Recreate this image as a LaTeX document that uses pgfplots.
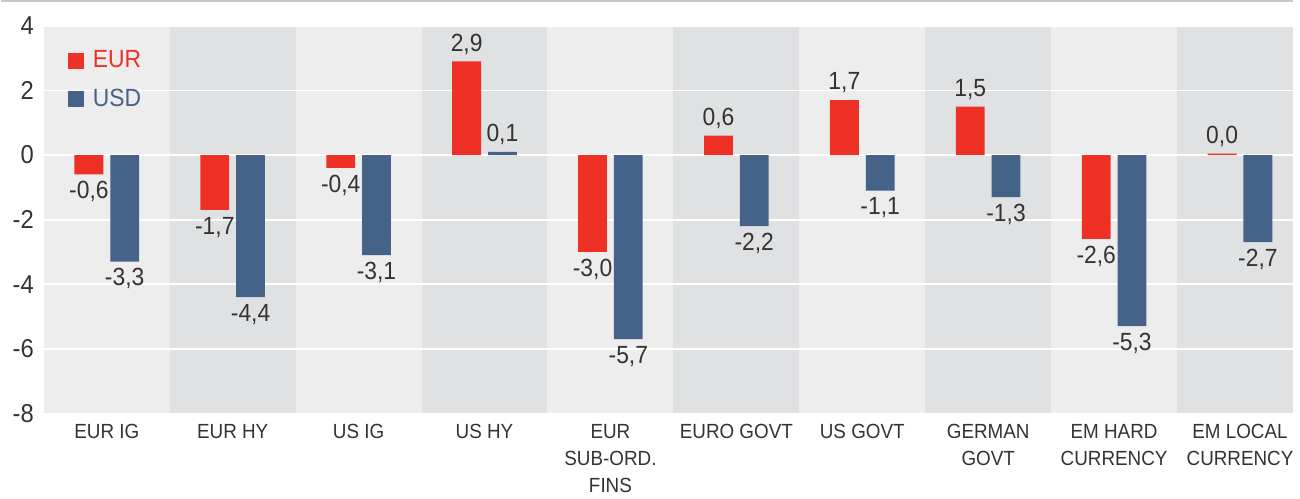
\documentclass[border=0pt]{standalone}
\usepackage{fontspec}
\setmainfont{Liberation Sans}[FakeStretch=0.92]
\usepackage{pgfplots}
\pgfplotsset{compat=1.18}
\definecolor{eurred}{HTML}{EE3124}
\definecolor{usdblue}{HTML}{456288}
\definecolor{bandlight}{HTML}{EDEDED}
\definecolor{banddark}{HTML}{E0E1E3}
\definecolor{txt}{HTML}{333333}
\begin{document}
\begin{tikzpicture}
\path (0,0) rectangle (650pt,246.5pt);
\draw[color=black!22, line width=0.8pt] (0,246.1pt) -- (650pt,246.1pt);
\begin{axis}[
  set layers,
  at={(21.65pt,38.5pt)}, anchor=south west,
  scale only axis, width=628.35pt, height=195pt,
  xmin=-0.5, xmax=9.419, ymin=-8, ymax=4,
  ytick={-8,-6,...,4},
  xtick={0,...,9},
  xticklabels={EUR IG, EUR HY, US IG, US HY, {EUR\\SUB-ORD.\\FINS}, EURO GOVT, US GOVT, {GERMAN\\GOVT}, {EM HARD\\CURRENCY}, {EM LOCAL\\CURRENCY}},
  xticklabel style={align=center, font=\fontsize{10.3}{13.5}\selectfont, text=txt, anchor=north, yshift=-2pt},
  yticklabel style={font=\fontsize{13}{15}\selectfont, text=txt, xshift=-1.5pt},
  /pgf/number format/assume math mode=true,
  axis line style={draw=none},
  major tick length=0pt,
  ymajorgrids, grid style={white, line width=0.9pt},
  ybar=3.5pt, bar width=14.5pt,
  nodes near coords,
  nodes near coords style={font=\fontsize{12.5}{14}\selectfont, text=txt,
    /pgf/number format/.cd, use comma, fixed, fixed zerofill, precision=1, assume math mode=true},
  legend style={draw=none, fill=none, at={(0.019,0.947)}, anchor=north west,
    font=\fontsize{12.5}{14}\selectfont, row sep=5pt, inner sep=0pt,
    nodes={inner xsep=4.5pt}},
  legend cell align=left,
  legend image code/.code={\fill[#1] (0pt,-4pt) rectangle (8pt,4pt);},
  clip=false,
]
\pgfplotsextra{%
\begin{pgfonlayer}{axis background}
\fill[bandlight] (axis cs:-0.5,-8) rectangle (axis cs:0.5,4);
\fill[banddark] (axis cs:0.5,-8) rectangle (axis cs:1.5,4);
\fill[bandlight] (axis cs:1.5,-8) rectangle (axis cs:2.5,4);
\fill[banddark] (axis cs:2.5,-8) rectangle (axis cs:3.5,4);
\fill[bandlight] (axis cs:3.5,-8) rectangle (axis cs:4.5,4);
\fill[banddark] (axis cs:4.5,-8) rectangle (axis cs:5.5,4);
\fill[bandlight] (axis cs:5.5,-8) rectangle (axis cs:6.5,4);
\fill[banddark] (axis cs:6.5,-8) rectangle (axis cs:7.5,4);
\fill[bandlight] (axis cs:7.5,-8) rectangle (axis cs:8.5,4);
\fill[banddark] (axis cs:8.5,-8) rectangle (axis cs:9.419,4);
\end{pgfonlayer}}
\addplot[fill=eurred, draw=none] coordinates {(0,-0.6) (1,-1.7) (2,-0.4) (3,2.9) (4,-3.0) (5,0.6) (6,1.7) (7,1.5) (8,-2.6) (9,0.04)};
\addlegendentry{\textcolor{eurred}{EUR}}
\addplot[fill=usdblue, draw=none] coordinates {(0,-3.3) (1,-4.4) (2,-3.1) (3,0.1) (4,-5.7) (5,-2.2) (6,-1.1) (7,-1.3) (8,-5.3) (9,-2.7)};
\addlegendentry{\textcolor{usdblue}{USD}}
\end{axis}
\end{tikzpicture}
\end{document}
